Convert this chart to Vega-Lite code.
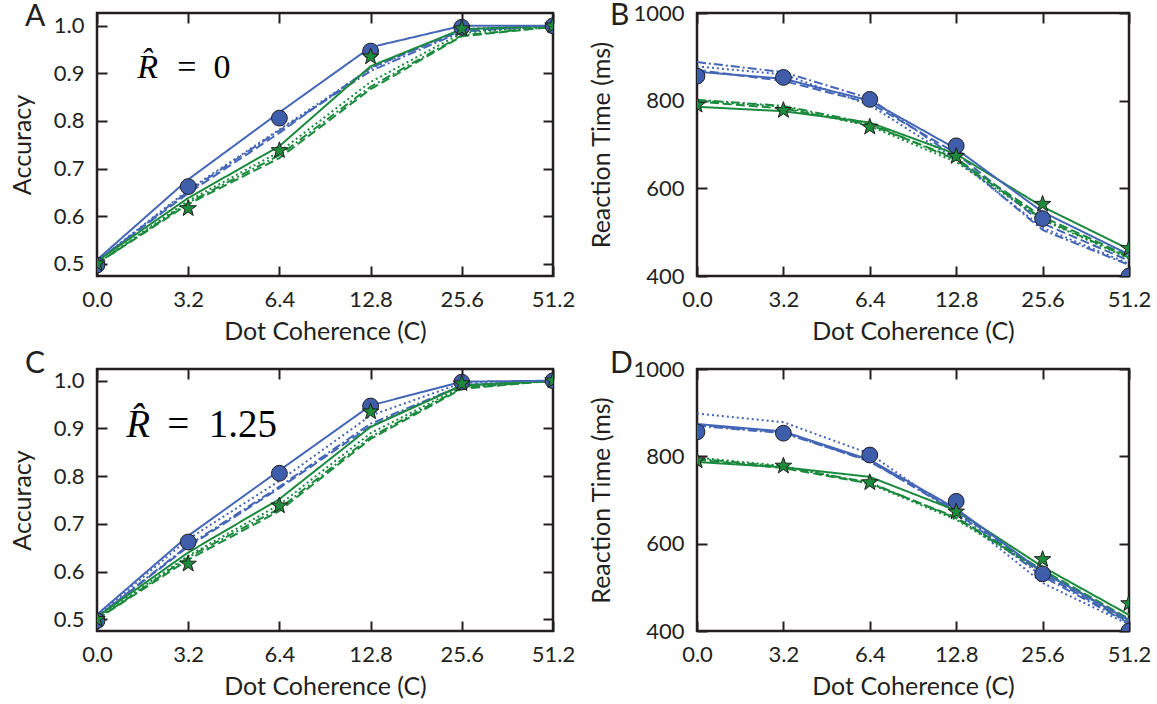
{
"$schema": "https://vega.github.io/schema/vega-lite/v6.json",
"background": "white",
"padding": {"left": 9, "top": 0, "right": 0, "bottom": 0},
"bounds": "flush",
"columns": 2,
"spacing": {"row": 93, "column": 144},
"datasets": {"d": [
{"p":"A","g":"G1","m":"data","i":0,"v":0.497},{"p":"A","g":"G1","m":"data","i":1,"v":0.662},{"p":"A","g":"G1","m":"data","i":2,"v":0.806},{"p":"A","g":"G1","m":"data","i":3,"v":0.947},{"p":"A","g":"G1","m":"data","i":4,"v":0.997},{"p":"A","g":"G1","m":"data","i":5,"v":1.0},
{"p":"A","g":"G2","m":"data","i":0,"v":0.5},{"p":"A","g":"G2","m":"data","i":1,"v":0.616},{"p":"A","g":"G2","m":"data","i":2,"v":0.738},{"p":"A","g":"G2","m":"data","i":3,"v":0.935},{"p":"A","g":"G2","m":"data","i":4,"v":0.994},{"p":"A","g":"G2","m":"data","i":5,"v":1.0},
{"p":"A","g":"G1","m":"M2","i":0,"v":0.505},{"p":"A","g":"G1","m":"M2","i":1,"v":0.648},{"p":"A","g":"G1","m":"M2","i":2,"v":0.775},{"p":"A","g":"G1","m":"M2","i":3,"v":0.912},{"p":"A","g":"G1","m":"M2","i":4,"v":0.99},{"p":"A","g":"G1","m":"M2","i":5,"v":1.0},
{"p":"A","g":"G1","m":"M3","i":0,"v":0.505},{"p":"A","g":"G1","m":"M3","i":1,"v":0.652},{"p":"A","g":"G1","m":"M3","i":2,"v":0.78},{"p":"A","g":"G1","m":"M3","i":3,"v":0.905},{"p":"A","g":"G1","m":"M3","i":4,"v":0.988},{"p":"A","g":"G1","m":"M3","i":5,"v":1.0},
{"p":"A","g":"G1","m":"M4","i":0,"v":0.505},{"p":"A","g":"G1","m":"M4","i":1,"v":0.655},{"p":"A","g":"G1","m":"M4","i":2,"v":0.782},{"p":"A","g":"G1","m":"M4","i":3,"v":0.91},{"p":"A","g":"G1","m":"M4","i":4,"v":0.993},{"p":"A","g":"G1","m":"M4","i":5,"v":1.0},
{"p":"A","g":"G2","m":"M2","i":0,"v":0.5},{"p":"A","g":"G2","m":"M2","i":1,"v":0.625},{"p":"A","g":"G2","m":"M2","i":2,"v":0.722},{"p":"A","g":"G2","m":"M2","i":3,"v":0.867},{"p":"A","g":"G2","m":"M2","i":4,"v":0.978},{"p":"A","g":"G2","m":"M2","i":5,"v":0.998},
{"p":"A","g":"G2","m":"M3","i":0,"v":0.5},{"p":"A","g":"G2","m":"M3","i":1,"v":0.628},{"p":"A","g":"G2","m":"M3","i":2,"v":0.728},{"p":"A","g":"G2","m":"M3","i":3,"v":0.872},{"p":"A","g":"G2","m":"M3","i":4,"v":0.98},{"p":"A","g":"G2","m":"M3","i":5,"v":0.998},
{"p":"A","g":"G2","m":"M4","i":0,"v":0.5},{"p":"A","g":"G2","m":"M4","i":1,"v":0.632},{"p":"A","g":"G2","m":"M4","i":2,"v":0.735},{"p":"A","g":"G2","m":"M4","i":3,"v":0.882},{"p":"A","g":"G2","m":"M4","i":4,"v":0.985},{"p":"A","g":"G2","m":"M4","i":5,"v":1.0},
{"p":"A","g":"G2","m":"M1","i":0,"v":0.505},{"p":"A","g":"G2","m":"M1","i":1,"v":0.638},{"p":"A","g":"G2","m":"M1","i":2,"v":0.747},{"p":"A","g":"G2","m":"M1","i":3,"v":0.915},{"p":"A","g":"G2","m":"M1","i":4,"v":0.993},{"p":"A","g":"G2","m":"M1","i":5,"v":1.0},
{"p":"A","g":"G1","m":"M1","i":0,"v":0.508},{"p":"A","g":"G1","m":"M1","i":1,"v":0.677},{"p":"A","g":"G1","m":"M1","i":2,"v":0.818},{"p":"A","g":"G1","m":"M1","i":3,"v":0.955},{"p":"A","g":"G1","m":"M1","i":4,"v":1.0},{"p":"A","g":"G1","m":"M1","i":5,"v":1.0},

{"p":"C","g":"G1","m":"data","i":0,"v":0.497},{"p":"C","g":"G1","m":"data","i":1,"v":0.662},{"p":"C","g":"G1","m":"data","i":2,"v":0.806},{"p":"C","g":"G1","m":"data","i":3,"v":0.947},{"p":"C","g":"G1","m":"data","i":4,"v":0.997},{"p":"C","g":"G1","m":"data","i":5,"v":1.0},
{"p":"C","g":"G2","m":"data","i":0,"v":0.5},{"p":"C","g":"G2","m":"data","i":1,"v":0.616},{"p":"C","g":"G2","m":"data","i":2,"v":0.738},{"p":"C","g":"G2","m":"data","i":3,"v":0.935},{"p":"C","g":"G2","m":"data","i":4,"v":0.994},{"p":"C","g":"G2","m":"data","i":5,"v":1.0},
{"p":"C","g":"G1","m":"M2","i":0,"v":0.505},{"p":"C","g":"G1","m":"M2","i":1,"v":0.652},{"p":"C","g":"G1","m":"M2","i":2,"v":0.775},{"p":"C","g":"G1","m":"M2","i":3,"v":0.905},{"p":"C","g":"G1","m":"M2","i":4,"v":0.99},{"p":"C","g":"G1","m":"M2","i":5,"v":1.0},
{"p":"C","g":"G1","m":"M3","i":0,"v":0.505},{"p":"C","g":"G1","m":"M3","i":1,"v":0.655},{"p":"C","g":"G1","m":"M3","i":2,"v":0.778},{"p":"C","g":"G1","m":"M3","i":3,"v":0.91},{"p":"C","g":"G1","m":"M3","i":4,"v":0.99},{"p":"C","g":"G1","m":"M3","i":5,"v":1.0},
{"p":"C","g":"G1","m":"M4","i":0,"v":0.507},{"p":"C","g":"G1","m":"M4","i":1,"v":0.668},{"p":"C","g":"G1","m":"M4","i":2,"v":0.79},{"p":"C","g":"G1","m":"M4","i":3,"v":0.927},{"p":"C","g":"G1","m":"M4","i":4,"v":0.995},{"p":"C","g":"G1","m":"M4","i":5,"v":1.0},
{"p":"C","g":"G2","m":"M2","i":0,"v":0.5},{"p":"C","g":"G2","m":"M2","i":1,"v":0.625},{"p":"C","g":"G2","m":"M2","i":2,"v":0.727},{"p":"C","g":"G2","m":"M2","i":3,"v":0.878},{"p":"C","g":"G2","m":"M2","i":4,"v":0.983},{"p":"C","g":"G2","m":"M2","i":5,"v":1.0},
{"p":"C","g":"G2","m":"M3","i":0,"v":0.5},{"p":"C","g":"G2","m":"M3","i":1,"v":0.63},{"p":"C","g":"G2","m":"M3","i":2,"v":0.732},{"p":"C","g":"G2","m":"M3","i":3,"v":0.882},{"p":"C","g":"G2","m":"M3","i":4,"v":0.985},{"p":"C","g":"G2","m":"M3","i":5,"v":1.0},
{"p":"C","g":"G2","m":"M4","i":0,"v":0.502},{"p":"C","g":"G2","m":"M4","i":1,"v":0.633},{"p":"C","g":"G2","m":"M4","i":2,"v":0.74},{"p":"C","g":"G2","m":"M4","i":3,"v":0.89},{"p":"C","g":"G2","m":"M4","i":4,"v":0.987},{"p":"C","g":"G2","m":"M4","i":5,"v":1.0},
{"p":"C","g":"G2","m":"M1","i":0,"v":0.505},{"p":"C","g":"G2","m":"M1","i":1,"v":0.64},{"p":"C","g":"G2","m":"M1","i":2,"v":0.752},{"p":"C","g":"G2","m":"M1","i":3,"v":0.903},{"p":"C","g":"G2","m":"M1","i":4,"v":0.99},{"p":"C","g":"G2","m":"M1","i":5,"v":1.0},
{"p":"C","g":"G1","m":"M1","i":0,"v":0.51},{"p":"C","g":"G1","m":"M1","i":1,"v":0.675},{"p":"C","g":"G1","m":"M1","i":2,"v":0.812},{"p":"C","g":"G1","m":"M1","i":3,"v":0.948},{"p":"C","g":"G1","m":"M1","i":4,"v":0.998},{"p":"C","g":"G1","m":"M1","i":5,"v":1.0},

{"p":"B","g":"G1","m":"data","i":0,"v":856},{"p":"B","g":"G1","m":"data","i":1,"v":853},{"p":"B","g":"G1","m":"data","i":2,"v":803},{"p":"B","g":"G1","m":"data","i":3,"v":697},{"p":"B","g":"G1","m":"data","i":4,"v":531},{"p":"B","g":"G1","m":"data","i":5,"v":400},
{"p":"B","g":"G2","m":"data","i":0,"v":790},{"p":"B","g":"G2","m":"data","i":1,"v":778},{"p":"B","g":"G2","m":"data","i":2,"v":740},{"p":"B","g":"G2","m":"data","i":3,"v":673},{"p":"B","g":"G2","m":"data","i":4,"v":564},{"p":"B","g":"G2","m":"data","i":5,"v":463},
{"p":"B","g":"G1","m":"M2","i":0,"v":870},{"p":"B","g":"G1","m":"M2","i":1,"v":845},{"p":"B","g":"G1","m":"M2","i":2,"v":795},{"p":"B","g":"G1","m":"M2","i":3,"v":680},{"p":"B","g":"G1","m":"M2","i":4,"v":520},{"p":"B","g":"G1","m":"M2","i":5,"v":435},
{"p":"B","g":"G1","m":"M3","i":0,"v":888},{"p":"B","g":"G1","m":"M3","i":1,"v":865},{"p":"B","g":"G1","m":"M3","i":2,"v":805},{"p":"B","g":"G1","m":"M3","i":3,"v":670},{"p":"B","g":"G1","m":"M3","i":4,"v":505},{"p":"B","g":"G1","m":"M3","i":5,"v":425},
{"p":"B","g":"G1","m":"M4","i":0,"v":878},{"p":"B","g":"G1","m":"M4","i":1,"v":860},{"p":"B","g":"G1","m":"M4","i":2,"v":790},{"p":"B","g":"G1","m":"M4","i":3,"v":665},{"p":"B","g":"G1","m":"M4","i":4,"v":510},{"p":"B","g":"G1","m":"M4","i":5,"v":428},
{"p":"B","g":"G2","m":"M2","i":0,"v":798},{"p":"B","g":"G2","m":"M2","i":1,"v":782},{"p":"B","g":"G2","m":"M2","i":2,"v":745},{"p":"B","g":"G2","m":"M2","i":3,"v":668},{"p":"B","g":"G2","m":"M2","i":4,"v":535},{"p":"B","g":"G2","m":"M2","i":5,"v":445},
{"p":"B","g":"G2","m":"M3","i":0,"v":802},{"p":"B","g":"G2","m":"M3","i":1,"v":788},{"p":"B","g":"G2","m":"M3","i":2,"v":748},{"p":"B","g":"G2","m":"M3","i":3,"v":665},{"p":"B","g":"G2","m":"M3","i":4,"v":530},{"p":"B","g":"G2","m":"M3","i":5,"v":442},
{"p":"B","g":"G2","m":"M4","i":0,"v":800},{"p":"B","g":"G2","m":"M4","i":1,"v":786},{"p":"B","g":"G2","m":"M4","i":2,"v":742},{"p":"B","g":"G2","m":"M4","i":3,"v":660},{"p":"B","g":"G2","m":"M4","i":4,"v":528},{"p":"B","g":"G2","m":"M4","i":5,"v":440},
{"p":"B","g":"G2","m":"M1","i":0,"v":786},{"p":"B","g":"G2","m":"M1","i":1,"v":776},{"p":"B","g":"G2","m":"M1","i":2,"v":750},{"p":"B","g":"G2","m":"M1","i":3,"v":678},{"p":"B","g":"G2","m":"M1","i":4,"v":558},{"p":"B","g":"G2","m":"M1","i":5,"v":461},
{"p":"B","g":"G1","m":"M1","i":0,"v":866},{"p":"B","g":"G1","m":"M1","i":1,"v":850},{"p":"B","g":"G1","m":"M1","i":2,"v":800},{"p":"B","g":"G1","m":"M1","i":3,"v":690},{"p":"B","g":"G1","m":"M1","i":4,"v":546},{"p":"B","g":"G1","m":"M1","i":5,"v":449},

{"p":"D","g":"G1","m":"data","i":0,"v":856},{"p":"D","g":"G1","m":"data","i":1,"v":853},{"p":"D","g":"G1","m":"data","i":2,"v":803},{"p":"D","g":"G1","m":"data","i":3,"v":697},{"p":"D","g":"G1","m":"data","i":4,"v":531},{"p":"D","g":"G1","m":"data","i":5,"v":400},
{"p":"D","g":"G2","m":"data","i":0,"v":790},{"p":"D","g":"G2","m":"data","i":1,"v":778},{"p":"D","g":"G2","m":"data","i":2,"v":740},{"p":"D","g":"G2","m":"data","i":3,"v":673},{"p":"D","g":"G2","m":"data","i":4,"v":564},{"p":"D","g":"G2","m":"data","i":5,"v":463},
{"p":"D","g":"G1","m":"M2","i":0,"v":872},{"p":"D","g":"G1","m":"M2","i":1,"v":855},{"p":"D","g":"G1","m":"M2","i":2,"v":788},{"p":"D","g":"G1","m":"M2","i":3,"v":676},{"p":"D","g":"G1","m":"M2","i":4,"v":530},{"p":"D","g":"G1","m":"M2","i":5,"v":420},
{"p":"D","g":"G1","m":"M3","i":0,"v":870},{"p":"D","g":"G1","m":"M3","i":1,"v":853},{"p":"D","g":"G1","m":"M3","i":2,"v":790},{"p":"D","g":"G1","m":"M3","i":3,"v":672},{"p":"D","g":"G1","m":"M3","i":4,"v":525},{"p":"D","g":"G1","m":"M3","i":5,"v":418},
{"p":"D","g":"G1","m":"M4","i":0,"v":898},{"p":"D","g":"G1","m":"M4","i":1,"v":878},{"p":"D","g":"G1","m":"M4","i":2,"v":806},{"p":"D","g":"G1","m":"M4","i":3,"v":668},{"p":"D","g":"G1","m":"M4","i":4,"v":510},{"p":"D","g":"G1","m":"M4","i":5,"v":415},
{"p":"D","g":"G2","m":"M2","i":0,"v":792},{"p":"D","g":"G2","m":"M2","i":1,"v":773},{"p":"D","g":"G2","m":"M2","i":2,"v":738},{"p":"D","g":"G2","m":"M2","i":3,"v":660},{"p":"D","g":"G2","m":"M2","i":4,"v":540},{"p":"D","g":"G2","m":"M2","i":5,"v":428},
{"p":"D","g":"G2","m":"M3","i":0,"v":795},{"p":"D","g":"G2","m":"M3","i":1,"v":776},{"p":"D","g":"G2","m":"M3","i":2,"v":740},{"p":"D","g":"G2","m":"M3","i":3,"v":658},{"p":"D","g":"G2","m":"M3","i":4,"v":537},{"p":"D","g":"G2","m":"M3","i":5,"v":425},
{"p":"D","g":"G2","m":"M4","i":0,"v":797},{"p":"D","g":"G2","m":"M4","i":1,"v":778},{"p":"D","g":"G2","m":"M4","i":2,"v":737},{"p":"D","g":"G2","m":"M4","i":3,"v":655},{"p":"D","g":"G2","m":"M4","i":4,"v":535},{"p":"D","g":"G2","m":"M4","i":5,"v":423},
{"p":"D","g":"G2","m":"M1","i":0,"v":787},{"p":"D","g":"G2","m":"M1","i":1,"v":775},{"p":"D","g":"G2","m":"M1","i":2,"v":753},{"p":"D","g":"G2","m":"M1","i":3,"v":676},{"p":"D","g":"G2","m":"M1","i":4,"v":547},{"p":"D","g":"G2","m":"M1","i":5,"v":437},
{"p":"D","g":"G1","m":"M1","i":0,"v":874},{"p":"D","g":"G1","m":"M1","i":1,"v":857},{"p":"D","g":"G1","m":"M1","i":2,"v":792},{"p":"D","g":"G1","m":"M1","i":3,"v":680},{"p":"D","g":"G1","m":"M1","i":4,"v":535},{"p":"D","g":"G1","m":"M1","i":5,"v":425}
]},
"data": {"name": "d"},
"concat": [
{
 "width": 456, "height": 263,
 "layer": [
  {"transform": [{"filter": "datum.p === 'A' && datum.m !== 'data'"}],
   "mark": {"type": "line", "strokeWidth": 2, "clip": true},
   "encoding": {
    "x": {"field": "i", "type": "quantitative", "scale": {"domain": [0, 5], "nice": false}, "axis": {"orient": "bottom", "values": [0,1,2,3,4,5], "labelExpr": "['0.0','3.2','6.4','12.8','25.6','51.2'][datum.value]", "title": "Dot Coherence (C)"}},
    "y": {"field": "v", "type": "quantitative", "scale": {"domain": [0.474, 1.027], "nice": false, "zero": false}, "axis": {"orient": "left", "values": [0.5,0.6,0.7,0.8,0.9,1.0], "format": ".1f", "title": "Accuracy"}},
    "color": {"field": "g", "type": "nominal", "scale": {"domain": ["G1","G2"], "range": ["#4466b6","#1c8a3e"]}, "legend": null},
    "strokeDash": {"field": "m", "type": "nominal", "scale": {"domain": ["M1","M2","M3","M4"], "range": [[1,0],[9,4],[9,3,2,3],[2,3]]}, "legend": null}
   }},
  {"transform": [{"filter": "datum.p === 'A' && datum.m === 'data'"}],
   "mark": {"type": "point", "filled": true, "stroke": "#231f20", "strokeWidth": 1, "opacity": 1, "clip": true},
   "encoding": {
    "x": {"field": "i", "type": "quantitative", "axis": {"orient": "top", "values": [0,1,2,3,4,5], "labels": false, "title": null}},
    "y": {"field": "v", "type": "quantitative", "axis": {"orient": "right", "values": [0.5,0.6,0.7,0.8,0.9,1.0], "labels": false, "title": null}},
    "fill": {"field": "g", "type": "nominal", "scale": {"domain": ["G1","G2"], "range": ["#3e5eab","#1e8a3c"]}, "legend": null},
    "size": {"field": "g", "type": "nominal", "scale": {"domain": ["G1","G2"], "range": [250, 300]}, "legend": null},
    "shape": {"field": "g", "type": "nominal", "scale": {"domain": ["G1","G2"], "range": ["circle","M0,-1L0.235,-0.324L0.951,-0.309L0.38,0.124L0.588,0.809L0,0.4L-0.588,0.809L-0.38,0.124L-0.951,-0.309L-0.235,-0.324Z"]}, "legend": null}
   }},
  {"data": {"values": [{}]},
   "mark": {"type": "text", "font": "Liberation Serif", "fontStyle": "italic", "fontSize": 34, "align": "left", "baseline": "alphabetic", "color": "#000000"},
   "encoding": {"x": {"datum": 0.44, "type": "quantitative", "axis": null}, "y": {"datum": 0.891, "type": "quantitative", "axis": null}, "text": {"value": "R\u0302"}}},
  {"data": {"values": [{}]},
   "mark": {"type": "text", "font": "Liberation Serif", "fontSize": 34, "align": "left", "baseline": "alphabetic", "color": "#000000"},
   "encoding": {"x": {"datum": 0.88, "type": "quantitative", "axis": null}, "y": {"datum": 0.891, "type": "quantitative", "axis": null}, "text": {"value": "=\u20020"}}},
  {"data": {"values": [{}]},
   "mark": {"type": "text", "font": "Lato", "fontSize": 30, "align": "left", "baseline": "alphabetic", "color": "#231f20"},
   "encoding": {"x": {"datum": -0.79, "type": "quantitative", "axis": null}, "y": {"datum": 1.0, "type": "quantitative", "axis": null}, "text": {"value": "A"}}}
 ],
 "resolve": {"axis": {"x": "independent", "y": "independent"}}
},
{
 "width": 432, "height": 263,
 "layer": [
  {"transform": [{"filter": "datum.p === 'B' && datum.m !== 'data'"}],
   "mark": {"type": "line", "strokeWidth": 2, "clip": true},
   "encoding": {
    "x": {"field": "i", "type": "quantitative", "scale": {"domain": [0, 5], "nice": false}, "axis": {"orient": "bottom", "values": [0,1,2,3,4,5], "labelExpr": "['0.0','3.2','6.4','12.8','25.6','51.2'][datum.value]", "title": "Dot Coherence (C)"}},
    "y": {"field": "v", "type": "quantitative", "scale": {"domain": [400, 1000], "nice": false, "zero": false}, "axis": {"orient": "left", "values": [400,600,800,1000], "format": "d", "title": "Reaction Time (ms)"}},
    "color": {"field": "g", "type": "nominal", "scale": {"domain": ["G1","G2"], "range": ["#4466b6","#1c8a3e"]}, "legend": null},
    "strokeDash": {"field": "m", "type": "nominal", "scale": {"domain": ["M1","M2","M3","M4"], "range": [[1,0],[9,4],[9,3,2,3],[2,3]]}, "legend": null}
   }},
  {"transform": [{"filter": "datum.p === 'B' && datum.m === 'data'"}],
   "mark": {"type": "point", "filled": true, "stroke": "#231f20", "strokeWidth": 1, "opacity": 1, "clip": true},
   "encoding": {
    "x": {"field": "i", "type": "quantitative", "axis": {"orient": "top", "values": [0,1,2,3,4,5], "labels": false, "title": null}},
    "y": {"field": "v", "type": "quantitative", "axis": {"orient": "right", "values": [400,600,800,1000], "labels": false, "title": null}},
    "fill": {"field": "g", "type": "nominal", "scale": {"domain": ["G1","G2"], "range": ["#3e5eab","#1e8a3c"]}, "legend": null},
    "size": {"field": "g", "type": "nominal", "scale": {"domain": ["G1","G2"], "range": [250, 300]}, "legend": null},
    "shape": {"field": "g", "type": "nominal", "scale": {"domain": ["G1","G2"], "range": ["circle","M0,-1L0.235,-0.324L0.951,-0.309L0.38,0.124L0.588,0.809L0,0.4L-0.588,0.809L-0.38,0.124L-0.951,-0.309L-0.235,-0.324Z"]}, "legend": null}
   }},
  {"data": {"values": [{}]},
   "mark": {"type": "text", "font": "Lato", "fontSize": 30, "align": "left", "baseline": "alphabetic", "color": "#231f20"},
   "encoding": {"x": {"datum": -1.007, "type": "quantitative", "axis": null}, "y": {"datum": 972, "type": "quantitative", "axis": null}, "text": {"value": "B"}}}
 ],
 "resolve": {"axis": {"x": "independent", "y": "independent"}}
},
{
 "width": 456, "height": 262,
 "layer": [
  {"transform": [{"filter": "datum.p === 'C' && datum.m !== 'data'"}],
   "mark": {"type": "line", "strokeWidth": 2, "clip": true},
   "encoding": {
    "x": {"field": "i", "type": "quantitative", "scale": {"domain": [0, 5], "nice": false}, "axis": {"orient": "bottom", "values": [0,1,2,3,4,5], "labelExpr": "['0.0','3.2','6.4','12.8','25.6','51.2'][datum.value]", "title": "Dot Coherence (C)"}},
    "y": {"field": "v", "type": "quantitative", "scale": {"domain": [0.4755, 1.0245], "nice": false, "zero": false}, "axis": {"orient": "left", "values": [0.5,0.6,0.7,0.8,0.9,1.0], "format": ".1f", "title": "Accuracy"}},
    "color": {"field": "g", "type": "nominal", "scale": {"domain": ["G1","G2"], "range": ["#4466b6","#1c8a3e"]}, "legend": null},
    "strokeDash": {"field": "m", "type": "nominal", "scale": {"domain": ["M1","M2","M3","M4"], "range": [[1,0],[9,4],[9,3,2,3],[2,3]]}, "legend": null}
   }},
  {"transform": [{"filter": "datum.p === 'C' && datum.m === 'data'"}],
   "mark": {"type": "point", "filled": true, "stroke": "#231f20", "strokeWidth": 1, "opacity": 1, "clip": true},
   "encoding": {
    "x": {"field": "i", "type": "quantitative", "axis": {"orient": "top", "values": [0,1,2,3,4,5], "labels": false, "title": null}},
    "y": {"field": "v", "type": "quantitative", "axis": {"orient": "right", "values": [0.5,0.6,0.7,0.8,0.9,1.0], "labels": false, "title": null}},
    "fill": {"field": "g", "type": "nominal", "scale": {"domain": ["G1","G2"], "range": ["#3e5eab","#1e8a3c"]}, "legend": null},
    "size": {"field": "g", "type": "nominal", "scale": {"domain": ["G1","G2"], "range": [250, 300]}, "legend": null},
    "shape": {"field": "g", "type": "nominal", "scale": {"domain": ["G1","G2"], "range": ["circle","M0,-1L0.235,-0.324L0.951,-0.309L0.38,0.124L0.588,0.809L0,0.4L-0.588,0.809L-0.38,0.124L-0.951,-0.309L-0.235,-0.324Z"]}, "legend": null}
   }},
  {"data": {"values": [{}]},
   "mark": {"type": "text", "font": "Liberation Serif", "fontStyle": "italic", "fontSize": 39, "align": "left", "baseline": "alphabetic", "color": "#000000"},
   "encoding": {"x": {"datum": 0.32, "type": "quantitative", "axis": null}, "y": {"datum": 0.881, "type": "quantitative", "axis": null}, "text": {"value": "R\u0302"}}},
  {"data": {"values": [{}]},
   "mark": {"type": "text", "font": "Liberation Serif", "fontSize": 39, "align": "left", "baseline": "alphabetic", "color": "#000000"},
   "encoding": {"x": {"datum": 0.77, "type": "quantitative", "axis": null}, "y": {"datum": 0.881, "type": "quantitative", "axis": null}, "text": {"value": "=\u20021.25"}}},
  {"data": {"values": [{}]},
   "mark": {"type": "text", "font": "Lato", "fontSize": 30, "align": "left", "baseline": "alphabetic", "color": "#231f20"},
   "encoding": {"x": {"datum": -0.79, "type": "quantitative", "axis": null}, "y": {"datum": 1.016, "type": "quantitative", "axis": null}, "text": {"value": "C"}}}
 ],
 "resolve": {"axis": {"x": "independent", "y": "independent"}}
},
{
 "width": 432, "height": 262,
 "layer": [
  {"transform": [{"filter": "datum.p === 'D' && datum.m !== 'data'"}],
   "mark": {"type": "line", "strokeWidth": 2, "clip": true},
   "encoding": {
    "x": {"field": "i", "type": "quantitative", "scale": {"domain": [0, 5], "nice": false}, "axis": {"orient": "bottom", "values": [0,1,2,3,4,5], "labelExpr": "['0.0','3.2','6.4','12.8','25.6','51.2'][datum.value]", "title": "Dot Coherence (C)"}},
    "y": {"field": "v", "type": "quantitative", "scale": {"domain": [400, 1000], "nice": false, "zero": false}, "axis": {"orient": "left", "values": [400,600,800,1000], "format": "d", "title": "Reaction Time (ms)"}},
    "color": {"field": "g", "type": "nominal", "scale": {"domain": ["G1","G2"], "range": ["#4466b6","#1c8a3e"]}, "legend": null},
    "strokeDash": {"field": "m", "type": "nominal", "scale": {"domain": ["M1","M2","M3","M4"], "range": [[1,0],[9,4],[9,3,2,3],[2,3]]}, "legend": null}
   }},
  {"transform": [{"filter": "datum.p === 'D' && datum.m === 'data'"}],
   "mark": {"type": "point", "filled": true, "stroke": "#231f20", "strokeWidth": 1, "opacity": 1, "clip": true},
   "encoding": {
    "x": {"field": "i", "type": "quantitative", "axis": {"orient": "top", "values": [0,1,2,3,4,5], "labels": false, "title": null}},
    "y": {"field": "v", "type": "quantitative", "axis": {"orient": "right", "values": [400,600,800,1000], "labels": false, "title": null}},
    "fill": {"field": "g", "type": "nominal", "scale": {"domain": ["G1","G2"], "range": ["#3e5eab","#1e8a3c"]}, "legend": null},
    "size": {"field": "g", "type": "nominal", "scale": {"domain": ["G1","G2"], "range": [250, 300]}, "legend": null},
    "shape": {"field": "g", "type": "nominal", "scale": {"domain": ["G1","G2"], "range": ["circle","M0,-1L0.235,-0.324L0.951,-0.309L0.38,0.124L0.588,0.809L0,0.4L-0.588,0.809L-0.38,0.124L-0.951,-0.309L-0.235,-0.324Z"]}, "legend": null}
   }},
  {"data": {"values": [{}]},
   "mark": {"type": "text", "font": "Lato", "fontSize": 30, "align": "left", "baseline": "alphabetic", "color": "#231f20"},
   "encoding": {"x": {"datum": -1.007, "type": "quantitative", "axis": null}, "y": {"datum": 991, "type": "quantitative", "axis": null}, "text": {"value": "D"}}}
 ],
 "resolve": {"axis": {"x": "independent", "y": "independent"}}
}
],
"config": {
 "font": "Lato",
 "view": {"stroke": "#231f20", "strokeWidth": 2.5},
 "axis": {"domain": false, "grid": false, "tickSize": -10, "tickWidth": 2, "tickColor": "#231f20", "labelPadding": 23, "labelFontSize": 22, "labelColor": "#231f20", "labelFont": "Lato", "labelFlush": false, "labelOverlap": false, "titleFont": "Lato", "titleFontSize": 25, "titleFontWeight": "normal", "titleColor": "#231f20"},
 "axisX": {"titlePadding": 9},
 "axisY": {"titlePadding": 18}
}
}
